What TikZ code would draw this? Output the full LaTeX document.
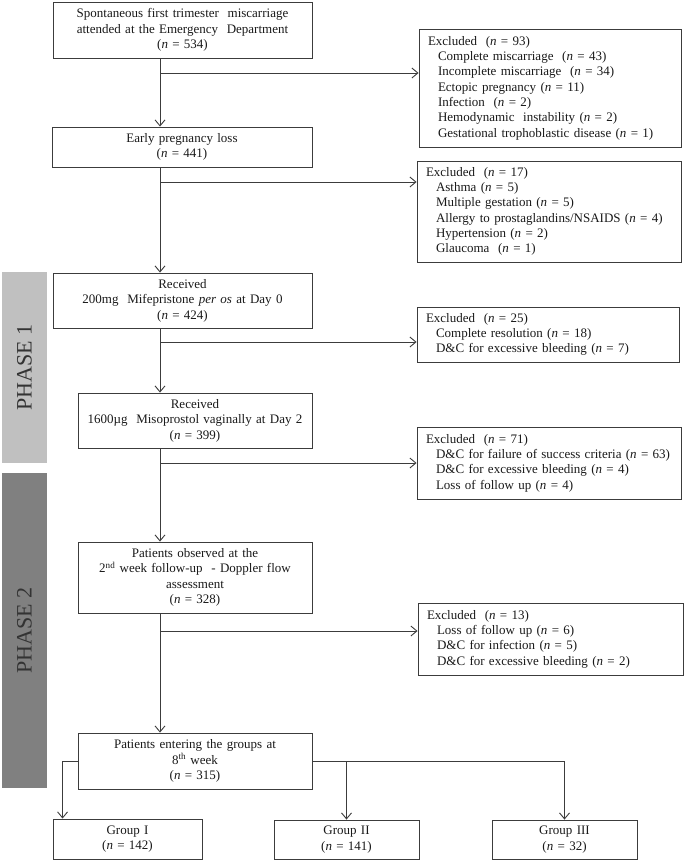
\documentclass[tikz,border=0pt]{standalone}
\usepackage{fontspec}
\setmainfont{Liberation Serif}
\usepackage{tikz}
\usetikzlibrary{arrows.meta}
\usetikzlibrary{positioning}
\usetikzlibrary{calc}
\definecolor{phaseone}{RGB}{192,192,192}
\definecolor{phasetwo}{RGB}{128,128,128}
\definecolor{inkgray}{RGB}{60,60,60}
\tikzset{
	>={Straight Barb[length=6pt,width=10pt]},
    flowbox/.style={draw=inkgray, line width=0.9pt, align=center, inner sep=2pt,
        text=black!90, font=\fontsize{13}{15.4}\selectfont},
    exclbox/.style={draw=inkgray, line width=0.9pt, align=left, inner xsep=9pt, inner ysep=2pt,
        text=black!90, font=\fontsize{13}{15.3}\selectfont},
    flowline/.style={draw=inkgray, line width=0.9pt},
    phasebar/.style={rotate=90, inner sep=0pt, minimum height=45pt,
        text=black!80, font=\fontsize{22}{24}\selectfont},
}
\newcommand{\nn}[1]{(\textit{n} = #1)}
\newcommand{\ind}{\hspace*{10pt}}

\begin{document}
\begin{tikzpicture}[x=1pt, y=-1pt]
\useasboundingbox (0,0) rectangle (685,862);

% phases
		\node[phasebar, fill=phaseone, minimum width=191pt] (ph1) at (24.5,367.5) {PHASE 1};
		\node[phasebar, fill=phasetwo, minimum width=315pt] (ph2) at (24.5,630.5) {PHASE 2};

% main column
		\node[flowbox, text width=255pt, minimum height=56pt] (b1) at (182.5,30)
			{Spontaneous first trimester\ \ miscarriage\\ attended at the Emergency\ \ Department\\ \nn{534}};
		\node[flowbox, text width=256pt, minimum height=40pt] (b2) at (182,147)
			{Early pregnancy loss\\ \nn{441}};
		\node[flowbox, text width=255pt, minimum height=55pt] (b3) at (182.5,300.5)
			{Received\\ 200mg\ \ Mifepristone \textit{per os} at Day 0\\ \nn{424}};
		\node[flowbox, text width=230pt, minimum height=55pt] (b4) at (195,420.5)
			{Received\\ 1600µg\ \ Misoprostol vaginally at Day 2\\ \nn{399}};
		\node[flowbox, text width=230pt, minimum height=71pt] (b5) at (195,577.5)
			{Patients observed at the\\ 2\textsuperscript{nd} week follow-up\ \ - Doppler flow\\ assessment\\ \nn{328}};
		\node[flowbox, text width=230pt, minimum height=56pt] (b6) at (195,761)
			{Patients entering the groups at\\ 8\textsuperscript{th} week\\ \nn{315}};

% groups
		\node[flowbox, text width=145pt, minimum height=40pt] (g1) at (127.5,839) {Group I\\ \nn{142}};
		\node[flowbox, text width=141pt, minimum height=39pt] (g2) at (346.5,839.5) {Group II\\ \nn{141}};
		\node[flowbox, text width=141pt, minimum height=39pt] (g3) at (564.5,839.5) {Group III\\ \nn{32}};

% exclusions
		\node[exclbox, text width=244pt, minimum height=118pt] (e1) at (550,88)
			{Excluded\ \ \nn{93}\\ \ind Complete miscarriage\ \ \nn{43}\\ \ind Incomplete miscarriage\ \ \nn{34}\\
			 \ind Ectopic pregnancy \nn{11}\\ \ind Infection\ \ \nn{2}\\ \ind Hemodynamic\ \ instability \nn{2}\\
			 \ind Gestational trophoblastic disease \nn{1}};
		\node[exclbox, text width=246pt, minimum height=101pt] (e2) at (549,211.5)
			{Excluded\ \ \nn{17}\\ \ind Asthma \nn{5}\\ \ind Multiple gestation \nn{5}\\
			 \ind Allergy to prostaglandins/NSAIDS \nn{4}\\ \ind Hypertension \nn{2}\\ \ind Glaucoma\ \ \nn{1}};
		\node[exclbox, text width=244pt, minimum height=55pt] (e3) at (548,334.5)
			{Excluded\ \ \nn{25}\\ \ind Complete resolution \nn{18}\\ \ind D\&C for excessive bleeding \nn{7}};
		\node[exclbox, text width=246pt, minimum height=72pt] (e4) at (549,463)
			{Excluded\ \ \nn{71}\\ \ind D\&C for failure of success criteria \nn{63}\\
			 \ind D\&C for excessive bleeding \nn{4}\\ \ind Loss of follow up \nn{4}};
		\node[exclbox, text width=247pt, minimum height=72pt] (e5) at (550.5,639)
			{Excluded\ \ \nn{13}\\ \ind Loss of follow up \nn{6}\\ \ind D\&C for infection \nn{5}\\
			 \ind D\&C for excessive bleeding \nn{2}};

% trunk and branches
		\coordinate (trunk) at (160,0);
		\draw[flowline,->] (b1.south -| trunk) -- (b2.north -| trunk);
		\draw[flowline,->] (b2.south -| trunk) -- (b3.north -| trunk);
		\draw[flowline,->] (b3.south -| trunk) -- (b4.north -| trunk);
		\draw[flowline,->] (b4.south -| trunk) -- (b5.north -| trunk);
		\draw[flowline,->] (b5.south -| trunk) -- (b6.north -| trunk);

		\coordinate (j1) at (160,73);
		\coordinate (j2) at (160,182);
		\coordinate (j3) at (160,342);
		\coordinate (j4) at (160,463);
		\coordinate (j5) at (160,631);
		\draw[flowline,->] (j1) -- (j1 -| e1.west);
		\draw[flowline,->] (j2) -- (j2 -| e2.west);
		\draw[flowline,->] (j3) -- (j3 -| e3.west);
		\draw[flowline,->] (j4) -- (j4 -| e4.west);
		\draw[flowline,->] (j5) -- (j5 -| e5.west);

% split into groups
		\draw[flowline,->] (b6.west) -| ([xshift=10pt]g1.north west);
		\draw[flowline,->] (b6.east) -| (g3.north);
		\draw[flowline,->] (b6.east -| g2.north) -- (g2.north);
\end{tikzpicture}
\end{document}
